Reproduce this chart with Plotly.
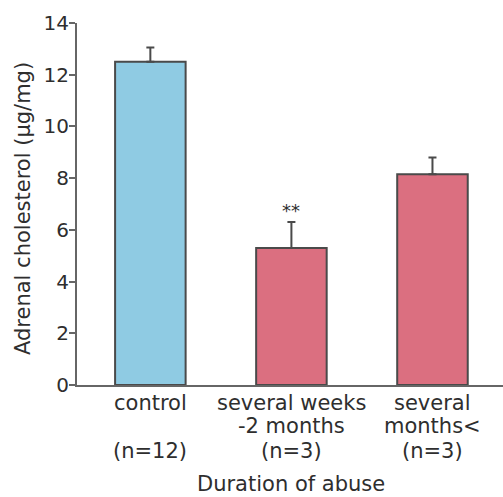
import plotly.graph_objects as go

categories = ["control", "several weeks -2 months", "several months<"]
label_lines = [
    ["control", "", "(n=12)"],
    ["several weeks", "-2 months", "(n=3)"],
    ["several", "months<", "(n=3)"],
]
means = [12.5, 5.3, 8.15]
errors_up = [0.55, 1.0, 0.65]
bar_colors = ["#8fcbe3", "#db6f80"]
y_ticks = [0, 2, 4, 6, 8, 10, 12, 14]
x_title = "Duration of abuse"
y_title = "Adrenal cholesterol (µg/mg)"
signif = "**"

x_pos = list(range(len(categories)))
colors = [bar_colors[0], bar_colors[1], bar_colors[1]]
font = "DejaVu Sans, Liberation Sans, Arial, sans-serif"
txt = "#2e2e2e"

fig = go.Figure()
fig.add_trace(go.Bar(
    x=x_pos, y=means, width=0.5,
    marker=dict(color=colors, line=dict(color="#4a4a4a", width=2)),
    error_y=dict(type="data", array=errors_up, arrayminus=[0, 0, 0], symmetric=False,
                 color="#4a4a4a", thickness=2, width=4),
    showlegend=False,
))

fig.add_annotation(x=1, y=6.75, text=signif, showarrow=False,
                   font=dict(size=18, color=txt, family=font), yanchor="middle")

# multi-line category labels with tight line spacing
line_shifts = [-18, -41, -66]
for xi, lines in zip(x_pos, label_lines):
    for li, t in enumerate(lines):
        if not t:
            continue
        fig.add_annotation(x=xi, xref="x", y=0, yref="paper", yanchor="middle",
                           yshift=line_shifts[li], text=t, showarrow=False,
                           font=dict(size=21, color=txt, family=font))

fig.add_annotation(x=1, xref="x", y=0, yref="paper", yanchor="middle", yshift=-99,
                   text=x_title, showarrow=False, font=dict(size=21, color=txt, family=font))
fig.add_annotation(x=0, xref="paper", y=0.5, yref="paper", xanchor="center", yanchor="middle",
                   xshift=-54, yshift=-5, textangle=-90, text=y_title, showarrow=False,
                   font=dict(size=21, color=txt, family=font))

# short extension of the baseline to the left of the y axis
fig.add_shape(type="line", xref="paper", yref="y", x0=-6 / 426, x1=0, y0=0, y1=0,
              line=dict(color="#666", width=2))

fig.update_layout(
    width=503, height=497,
    margin=dict(l=77, r=0, t=23, b=112, autoexpand=False),
    plot_bgcolor="white", paper_bgcolor="white",
    font=dict(family=font, color=txt),
)
fig.update_xaxes(
    range=[-0.52, 2.5], tickvals=x_pos, showticklabels=False,
    showline=True, linecolor="#666", linewidth=2, ticks="",
    showgrid=False, zeroline=False,
)
fig.update_yaxes(
    range=[0, 14], tickvals=y_ticks,
    showline=True, linecolor="#666", linewidth=2, ticks="outside", ticklen=6,
    tickcolor="#666", tickwidth=2, ticklabelstandoff=-4,
    tickfont=dict(size=20, color=txt, family=font),
    showgrid=False, zeroline=False,
)

fig.write_html("out.html", config={"displayModeBar": False},
               post_script="document.body.style.margin='0';")
